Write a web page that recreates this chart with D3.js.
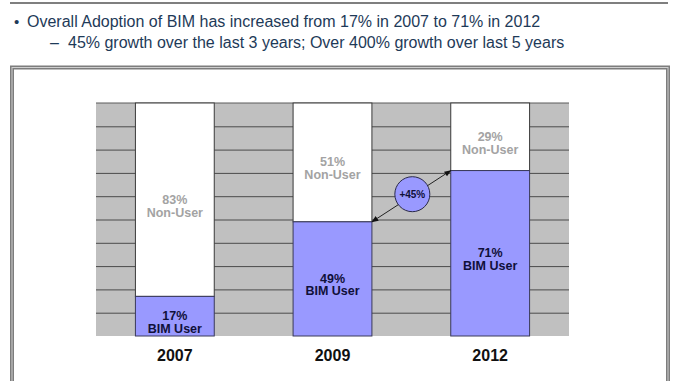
<!DOCTYPE html>
<html><head><meta charset="utf-8">
<script src="https://cdn.jsdelivr.net/npm/d3@7/dist/d3.min.js"></script>
<style>body{margin:0;background:#fff}svg{display:block}</style>
</head><body>
<svg id="c" width="678" height="381"></svg>
<script>
const years = ["2007", "2009", "2012"];
const bimUser = [17, 49, 71];
const nonUser = [83, 51, 29];
const gridTicks = [10, 20, 30, 40, 50, 60, 70, 80, 90];
const growthLabel = "+45%";
const headline = "Overall Adoption of BIM has increased from 17% in 2007 to 71% in 2012";
const subline = "45% growth over the last 3 years; Over 400% growth over last 5 years";

(function () {
const svg = d3.select("#c");
const font = "Liberation Sans, Arial, Helvetica, sans-serif";
const textCol = "#1e3a58";

// top rule
svg.append("line").attr("x1", 10).attr("x2", 668).attr("y1", 3).attr("y2", 3)
  .attr("stroke", "#555").attr("stroke-width", 1.5);

// bullets
svg.append("text").attr("x", 14).attr("y", 27).text("•")
  .attr("font-family", font).attr("font-size", 15).attr("fill", textCol);
svg.append("text").attr("x", 27).attr("y", 27).text(headline)
  .attr("font-family", font).attr("font-size", 16).attr("fill", textCol);
svg.append("text").attr("x", 50).attr("y", 48).text("–")
  .attr("font-family", font).attr("font-size", 16).attr("fill", textCol);
svg.append("text").attr("x", 68).attr("y", 48).text(subline)
  .attr("font-family", font).attr("font-size", 16).attr("fill", textCol);

// frame
svg.append("rect").attr("x", 12).attr("y", 67.5).attr("width", 656).attr("height", 340)
  .attr("fill", "none").attr("stroke", "#7d7d7d").attr("stroke-width", 4);
svg.append("rect").attr("x", 12).attr("y", 67.5).attr("width", 656).attr("height", 340)
  .attr("fill", "none").attr("stroke", "#cfcfcf").attr("stroke-width", 1);

const pLeft = 96, pRight = 569, pTop = 103, pBottom = 336;
const x = d3.scaleBand().domain(years).range([pLeft, pRight]).paddingInner(0.5).paddingOuter(0.25);
const y = d3.scaleLinear().domain([0, 100]).range([pBottom, pTop]);

svg.append("rect").attr("x", pLeft).attr("y", pTop).attr("width", pRight - pLeft).attr("height", pBottom - pTop)
  .attr("fill", "#c0c0c0");

const grid = svg.append("g").attr("transform", `translate(${pLeft},0)`)
  .call(d3.axisLeft(y).tickValues(gridTicks).tickSize(-(pRight - pLeft)).tickFormat(""));
grid.select(".domain").remove();
grid.selectAll(".tick line").attr("stroke", "#4a4a4a").attr("stroke-width", 1);

svg.append("line").attr("x1", pLeft).attr("x2", pRight).attr("y1", pTop).attr("y2", pTop)
  .attr("stroke", "#5a5a5a").attr("stroke-width", 1);

const data = years.map((yr, i) => ({ yr, bim: bimUser[i], non: nonUser[i] }));

const g = svg.selectAll(".bar").data(data).join("g").attr("class", "bar");
g.append("rect").attr("x", d => x(d.yr)).attr("width", x.bandwidth())
  .attr("y", d => y(d.bim + d.non)).attr("height", d => y(d.bim) - y(d.bim + d.non))
  .attr("fill", "#ffffff").attr("stroke", "#3a3a3a").attr("stroke-width", 1);
g.append("rect").attr("x", d => x(d.yr)).attr("width", x.bandwidth())
  .attr("y", d => y(d.bim)).attr("height", d => y(0) - y(d.bim))
  .attr("fill", "#9999ff").attr("stroke", "#3a3a5a").attr("stroke-width", 1);

// non-user labels
g.append("text").attr("x", d => x(d.yr) + x.bandwidth() / 2)
  .attr("y", d => (y(d.bim) + y(d.bim + d.non)) / 2 + 4)
  .attr("text-anchor", "middle").attr("font-family", font).attr("font-size", 12.5)
  .attr("font-weight", "bold").attr("fill", "#a3a3a3").text(d => d.non + "%");
g.append("text").attr("x", d => x(d.yr) + x.bandwidth() / 2)
  .attr("y", d => (y(d.bim) + y(d.bim + d.non)) / 2 + 17)
  .attr("text-anchor", "middle").attr("font-family", font).attr("font-size", 12.5)
  .attr("font-weight", "bold").attr("fill", "#a3a3a3").text("Non-User");

// bim labels
g.append("text").attr("x", d => x(d.yr) + x.bandwidth() / 2)
  .attr("y", d => (y(0) + y(d.bim)) / 2 + 4)
  .attr("text-anchor", "middle").attr("font-family", font).attr("font-size", 12.5)
  .attr("font-weight", "bold").attr("fill", "#10103a").text(d => d.bim + "%");
g.append("text").attr("x", d => x(d.yr) + x.bandwidth() / 2)
  .attr("y", d => (y(0) + y(d.bim)) / 2 + 16.5)
  .attr("text-anchor", "middle").attr("font-family", font).attr("font-size", 12.5)
  .attr("font-weight", "bold").attr("fill", "#10103a").text("BIM User");

// year axis labels
g.append("text").attr("x", d => x(d.yr) + x.bandwidth() / 2).attr("y", 361)
  .attr("text-anchor", "middle").attr("font-family", font).attr("font-size", 16)
  .attr("font-weight", "bold").attr("fill", "#111").text(d => d.yr);

// arrow
const defs = svg.append("defs");
defs.append("marker").attr("id", "ah").attr("viewBox", "0 0 10 10").attr("refX", 9).attr("refY", 5)
  .attr("markerWidth", 7).attr("markerHeight", 7).attr("orient", "auto-start-reverse")
  .append("path").attr("d", "M0,1 L10,5 L0,9 Z").attr("fill", "#111");

const x1 = x("2009") + x.bandwidth(), y1 = y(bimUser[1]);
const x2 = x("2012"), y2 = y(bimUser[2]);
svg.append("line").attr("x1", x1).attr("y1", y1).attr("x2", x2).attr("y2", y2)
  .attr("stroke", "#222").attr("stroke-width", 1)
  .attr("marker-start", "url(#ah)").attr("marker-end", "url(#ah)");
const cx = (x1 + x2) / 2 + 1, cy = (y1 + y2) / 2 - 2;
svg.append("circle").attr("cx", cx).attr("cy", cy).attr("r", 17.5)
  .attr("fill", "#9999ff").attr("stroke", "#2a2a4a").attr("stroke-width", 1);
svg.append("text").attr("x", cx).attr("y", cy + 3.5).attr("text-anchor", "middle")
  .attr("font-family", font).attr("font-size", 10).attr("font-weight", "bold")
  .attr("fill", "#10103a").text(growthLabel);
})();
</script>
</body></html>
